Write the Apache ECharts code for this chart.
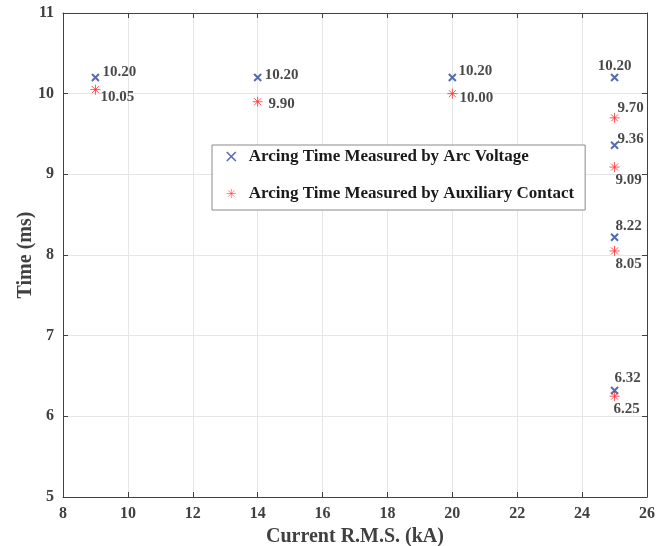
<!DOCTYPE html>
<html>
<head>
<meta charset="utf-8">
<script src="https://cdn.jsdelivr.net/npm/echarts@6/dist/echarts.min.js"></script>
<style>
html, body { margin: 0; padding: 0; background: #fff; }
#chart { width: 670px; height: 546px; }
</style>
</head>
<body>
<div id="chart"></div>
<script>
var currentKA = [9, 14, 20, 25, 25, 25, 25];
var arcVoltageTime = [10.20, 10.20, 10.20, 10.20, 9.36, 8.22, 6.32];
var auxContactTime = [10.05, 9.90, 10.00, 9.70, 9.09, 8.05, 6.25];

// where each value label sits, relative to its marker
var arcLabelOffset = [[24, -5], [24, -2], [23, -6], [0, -11], [16, -6], [14, -11], [13, -12]];
var auxLabelOffset = [[22, 7], [24, 2], [24, 4], [16, -10], [14, 13], [14, 13], [12, 13]];

var serif = 'Liberation Serif';
var axisColor = '#404040';

function buildData(values, offsets) {
    var out = [];
    for (var i = 0; i < values.length; i++) {
        out.push({
            value: [currentKA[i], values[i]],
            label: { offset: offsets[i] }
        });
    }
    return out;
}

var labelStyle = {
    show: true,
    position: 'inside',
    fontFamily: serif,
    fontWeight: 'bold',
    fontSize: 15,
    color: '#1a1a1a',
    formatter: function(p) {
        return p.value[1].toFixed(2);
    }
};

var myChart = echarts.init(document.getElementById('chart'));

var baseX = {
    type: 'value',
    min: 8,
    max: 26,
    interval: 2,
    axisLine: { show: true, onZero: false, lineStyle: { color: axisColor, width: 1 } },
    axisTick: { show: true, inside: true, length: 5, lineStyle: { color: axisColor } }
};
var baseY = {
    type: 'value',
    min: 5,
    max: 11,
    interval: 1,
    axisLine: { show: true, onZero: false, lineStyle: { color: axisColor, width: 1 } },
    axisTick: { show: true, inside: true, length: 5, lineStyle: { color: axisColor } }
};

var option = {
    backgroundColor: '#ffffff',
    animation: false,
    grid: {
        left: 63,
        right: 23,
        top: 13,
        bottom: 49,
        outerBoundsMode: 'none'
    },
    legend: {
        left: 212,
        top: 145,
        orient: 'vertical',
        backgroundColor: '#ffffff',
        borderColor: '#8a8a8a',
        borderWidth: 1,
        borderRadius: 0,
        padding: [3, 11, 8, 14],
        itemGap: 20,
        itemWidth: 9,
        itemHeight: 9,
        textStyle: {
            fontFamily: serif,
            fontWeight: 'bold',
            fontSize: 17,
            color: '#1a1a1a',
            padding: [0, 0, 0, 8]
        },
        data: [
            { name: 'Arcing Time Measured by Arc Voltage', itemStyle: { borderWidth: 1.6 } },
            { name: 'Arcing Time Measured by Auxiliary Contact', itemStyle: { borderWidth: 0.7 } }
        ]
    },
    xAxis: [
        Object.assign({}, baseX, {
            position: 'bottom',
            name: 'Current R.M.S. (kA)',
            nameLocation: 'middle',
            nameGap: 28,
            nameTextStyle: { fontFamily: serif, fontWeight: 'bold', fontSize: 20, color: axisColor },
            axisLabel: { fontFamily: serif, fontWeight: 'bold', fontSize: 16, color: axisColor, margin: 9 },
            splitLine: { show: true, lineStyle: { color: '#e6e6e6', width: 1 } }
        }),
        Object.assign({}, baseX, {
            position: 'top',
            axisLabel: { show: false },
            splitLine: { show: false }
        })
    ],
    yAxis: [
        Object.assign({}, baseY, {
            position: 'left',
            name: 'Time (ms)',
            nameLocation: 'middle',
            nameGap: 27,
            nameMoveOverlap: false,
            nameTextStyle: { fontFamily: serif, fontWeight: 'bold', fontSize: 20, color: axisColor },
            axisLabel: { fontFamily: serif, fontWeight: 'bold', fontSize: 16, color: axisColor, margin: 9 },
            splitLine: { show: true, lineStyle: { color: '#e6e6e6', width: 1 } }
        }),
        Object.assign({}, baseY, {
            position: 'right',
            axisLabel: { show: false },
            splitLine: { show: false }
        })
    ],
    series: [{
        name: 'Arcing Time Measured by Arc Voltage',
        type: 'scatter',
        xAxisIndex: 0,
        yAxisIndex: 0,
        symbol: 'path://M0,0 L10,10 M10,0 L0,10',
        symbolSize: 7,
        itemStyle: { color: '#2d479c', borderColor: '#2d479c', borderWidth: 2 },
        label: labelStyle,
        data: buildData(arcVoltageTime, arcLabelOffset),
        z: 3
    }, {
        name: 'Arcing Time Measured by Auxiliary Contact',
        type: 'scatter',
        xAxisIndex: 0,
        yAxisIndex: 0,
        symbol: 'path://M5,0 L5,10 M0,5 L10,5 M1.5,1.5 L8.5,8.5 M8.5,1.5 L1.5,8.5',
        symbolSize: 10,
        itemStyle: { color: '#ff2b2b', borderColor: '#ff2b2b', borderWidth: 1 },
        label: labelStyle,
        data: buildData(auxContactTime, auxLabelOffset),
        z: 2
    }]
};
myChart.setOption(option);
</script>
</body>
</html>
